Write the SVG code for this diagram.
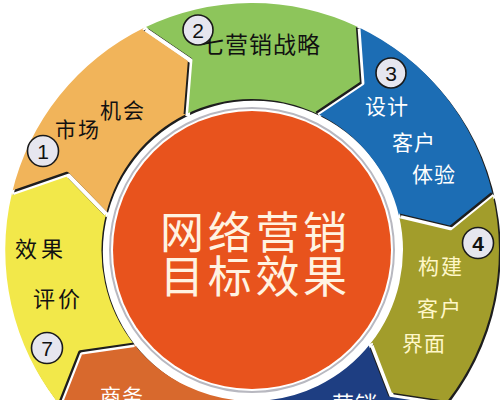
<svg xmlns="http://www.w3.org/2000/svg" width="500" height="400" viewBox="0 0 500 400">
<style>
.cn{font-family:"Noto Sans CJK SC","Noto Sans",sans-serif;}
.lbl{font-size:21px;}
.blk{fill:#111;}
.wht{fill:#fff;}
.crm{fill:#fff7c8;}
.num{fill:#e6e6ef;stroke:#1a1a1a;stroke-width:1.6;}
.numt{font-family:"Liberation Sans",Arial,sans-serif;font-size:21px;fill:#111;text-anchor:middle;}
.gap{fill:none;stroke:#000;stroke-width:4.5;stroke-linejoin:round;}
</style>
<defs>
<mask id="gaps" maskUnits="userSpaceOnUse" x="-20" y="-20" width="540" height="540">
<rect x="-20" y="-20" width="540" height="540" fill="#fff"/>
<polyline class="gap" points="143.7,28 190.2,59.8 185.8,114.3"/>
<polyline class="gap" points="358.1,26.9 362.2,83.1 316.8,113.6"/>
<polyline class="gap" points="492.5,193.9 450.5,228 399,215.7"/>
<polyline class="gap" points="445.8,403.1 390.2,394.6 370.5,343.6"/>
<polyline class="gap" points="253.3,497 225.2,448.2 252.8,401"/>
<polyline class="gap" points="59.7,405 80.3,352.6 134.4,344.7"/>
<polyline class="gap" points="12,193 67,174 106,214"/>
</mask>
</defs>
<rect width="500" height="400" fill="#fff"/>

<g id="connectors">
<g transform="translate(1.8,1.8)">
<g mask="url(#gaps)">
<path d="M252,3 A247,247 0 1 1 251.9,3 Z M252,99 A151,151 0 1 0 252.1,99 Z" fill="#1e1e1e" fill-rule="evenodd"/>
</g>
</g>
</g>

<g mask="url(#gaps)">
<g id="seg1">
<path d="M12,193 A247,247 0 0 1 143.7,28 L190.2,59.8 L185.8,114.3 A151,151 0 0 0 106,214 L67,174 Z" fill="#f1b45a"/>
</g>
<g id="seg2">
<path d="M143.7,28 A247,247 0 0 1 358.1,26.9 L362.2,83.1 L316.8,113.6 A151,151 0 0 0 185.8,114.3 L190.2,59.8 Z" fill="#8dc55b"/>
</g>
<g id="seg3">
<path d="M358.1,26.9 A247,247 0 0 1 492.5,193.9 L450.5,228 L399,215.7 A151,151 0 0 0 316.8,113.6 L362.2,83.1 Z" fill="#1c6db4"/>
</g>
<g id="seg4">
<path d="M492.5,193.9 A247,247 0 0 1 445.8,403.1 L390.2,394.6 L370.5,343.6 A151,151 0 0 0 399,215.7 L450.5,228 Z" fill="#a29d2b"/>
</g>
<g id="seg5">
<path d="M445.8,403.1 A247,247 0 0 1 253.3,497 L225.2,448.2 L252.8,401 A151,151 0 0 0 370.5,343.6 L390.2,394.6 Z" fill="#1e3e82"/>
</g>
<g id="seg6">
<path d="M253.3,497 A247,247 0 0 1 59.7,405 L80.3,352.6 L134.4,344.7 A151,151 0 0 0 252.8,401 L225.2,448.2 Z" fill="#d8692d"/>
</g>
<g id="seg7">
<path d="M59.7,405 A247,247 0 0 1 12,193 L67,174 L106,214 A151,151 0 0 0 134.4,344.7 L80.3,352.6 Z" fill="#f2e84a"/>
</g>
</g>

<g id="labels">
<text class="cn lbl blk" x="55" y="137" letter-spacing="2">市场</text>
<text class="cn lbl blk" x="100" y="118" letter-spacing="2">机会</text>
<text class="cn blk" x="201" y="53" font-size="23" letter-spacing="1">七营销战略</text>
<text class="cn lbl wht" x="365" y="114" letter-spacing="1">设计</text>
<text class="cn lbl wht" x="392" y="150" letter-spacing="1">客户</text>
<text class="cn lbl wht" x="412" y="182" letter-spacing="1">体验</text>
<text class="cn lbl crm" x="418" y="274" letter-spacing="2">构建</text>
<text class="cn lbl crm" x="417" y="316" letter-spacing="2">客户</text>
<text class="cn lbl crm" x="402" y="351" letter-spacing="1">界面</text>
<text class="cn wht" x="332" y="412" font-size="22" letter-spacing="1">营销</text>
<text class="cn wht" x="100" y="404" font-size="21" letter-spacing="1">商务</text>
<text class="cn blk" x="15" y="257" font-size="22" letter-spacing="4">效果</text>
<text class="cn blk" x="33" y="307" font-size="22" letter-spacing="3">评价</text>
</g>

<g id="center">
<circle cx="252" cy="250" r="142" fill="none" stroke="#b8b8c0" stroke-width="2"/>
<circle cx="252" cy="250" r="139" fill="#e8531d"/>
<text class="cn" x="160" y="249" font-size="44" letter-spacing="3.7" fill="#fff3e2">网络营销</text>
<text class="cn" x="160" y="293" font-size="44" letter-spacing="3.7" fill="#fff3e2">目标效果</text>
</g>

<g id="badges">
<g id="n1"><circle class="num" cx="43" cy="151" r="15.5"/><text class="numt" x="43" y="159">1</text></g>
<g id="n2"><circle class="num" cx="198" cy="30" r="15"/><text class="numt" x="198" y="38">2</text></g>
<g id="n3"><circle class="num" cx="391" cy="73" r="15"/><text class="numt" x="391" y="81">3</text></g>
<g id="n4"><circle class="num" cx="478" cy="243" r="15.5"/><text class="numt" x="478" y="251" font-family="Liberation Serif" font-weight="bold">4</text></g>
<g id="n7"><circle class="num" cx="47" cy="348" r="15.5"/><text class="numt" x="47" y="356">7</text></g>
</g>
</svg>
